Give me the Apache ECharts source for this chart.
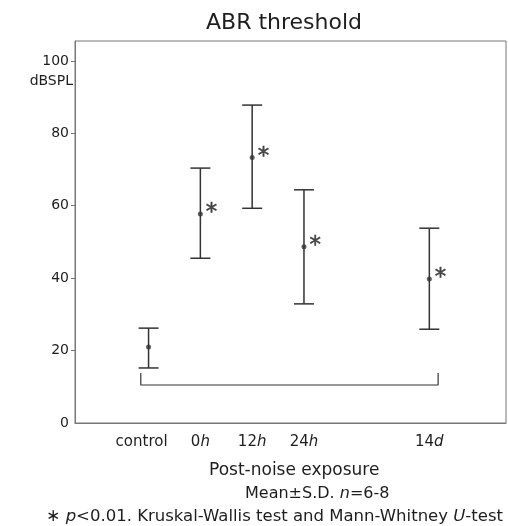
<!DOCTYPE html>
<html>
<head>
<meta charset="utf-8">
<script src="https://cdn.jsdelivr.net/npm/echarts@6/dist/echarts.min.js"></script>
<style>
  html, body { margin: 0; padding: 0; background: #fff; }
  #abr_chart { width: 508px; height: 526px; }
</style>
</head>
<body>
<div id="abr_chart"></div>
<script>
// ABR threshold, mean ± S.D.
var groups = ['control', '0h', '12h', '24h', '14d']
var groupX = [0, 1, 2, 3, 5.42] // 14d sits further to the right on the axis
var means = [21.0, 57.7, 73.3, 48.7, 39.8]
var upper = [26.2, 70.4, 87.8, 64.4, 53.8]
var lower = [15.2, 45.5, 59.3, 32.9, 25.9]
var signif = [false, true, true, true, true]
var yTicks = [0, 20, 40, 60, 80, 100]
var bracketLevel = 10.5
var bracketEnd = 13.8

var lineColor = '#333'
var textColor = '#1e1e1e'
var font = '"DejaVu Sans", Arial, sans-serif'

var abr_chart = echarts.init(document.getElementById('abr_chart'))

var errData = groupX.map(function (x, i) {
  return [x, upper[i], lower[i]]
})
var meanData = groupX.map(function (x, i) {
  return {
    value: [x, means[i]],
    label: { show: signif[i] },
  }
})
var bracketData = [
  [groupX[0] - 0.15, bracketEnd],
  [groupX[0] - 0.15, bracketLevel],
  [groupX[groupX.length - 1] + 0.17, bracketLevel],
  [groupX[groupX.length - 1] + 0.17, bracketEnd],
]

abr_chart_option = {
  animation: false,
  title: {
    text: 'ABR threshold',
    left: 279,
    textAlign: 'center',
    top: 7,
    textStyle: {
      fontFamily: font,
      fontSize: 22,
      fontWeight: 'normal',
      color: textColor,
    },
  },
  grid: {
    left: 75,
    right: 2,
    top: 41,
    bottom: 103,
    show: true,
    borderColor: '#777',
    borderWidth: 1,
  },
  xAxis: {
    type: 'value',
    min: -1.42,
    max: 6.9,
    splitLine: { show: false },
    axisLine: { lineStyle: { color: '#777' } },
    axisTick: { show: false },
    axisLabel: {
      customValues: groupX,
      margin: 12,
      color: textColor,
      fontFamily: font,
      fontSize: 15,
      formatter: function (v) {
        var g = groups[groupX.indexOf(v)]
        if (!g) return ''
        if (g === 'control') return '{c|' + g + '}'
        return '{n|' + g.slice(0, -1) + '}{i|' + g.slice(-1) + '}'
      },
      rich: {
        c: { fontFamily: font, fontSize: 15, color: textColor, padding: [0, 14, 0, 0] },
        n: { fontFamily: font, fontSize: 15, color: textColor },
        i: { fontFamily: font, fontSize: 15, color: textColor, fontStyle: 'italic' },
      },
    },
  },
  yAxis: {
    type: 'value',
    min: 0,
    max: 105.5,
    splitLine: { show: false },
    axisLine: { onZero: false, lineStyle: { color: '#777' } },
    axisTick: {
      customValues: yTicks.slice(1),
      length: 4,
      lineStyle: { color: '#777' },
    },
    axisLabel: {
      customValues: yTicks,
      margin: 6,
      color: textColor,
      fontFamily: font,
      fontSize: 14,
    },
  },
  graphic: [
    {
      type: 'text',
      right: 508 - 73,
      top: 74,
      style: { text: 'dBSPL', font: '14px ' + font, fill: textColor },
    },
    {
      type: 'text',
      left: 209,
      top: 462,
      style: { text: 'Post-noise exposure', font: '17px ' + font, fill: textColor },
    },
    {
      type: 'text',
      left: 245,
      top: 486,
      style: {
        text: '{a|Mean\u00b1S.D. }{i|n}{a|=6-8}',
        rich: {
          a: { fontFamily: font, fontSize: 16, fill: textColor },
          i: { fontFamily: font, fontSize: 16, fontStyle: 'italic', fill: textColor },
        },
      },
    },
    {
      type: 'text',
      left: 46,
      top: 508,
      style: {
        text: '{s|\u2217 }{i|p}{a|<0.01. Kruskal-Wallis test and Mann-Whitney }{i|U}{a|-test}',
        rich: {
          s: { fontFamily: font, fontSize: 17, fill: textColor },
          a: { fontFamily: font, fontSize: 16.5, fill: textColor },
          i: { fontFamily: font, fontSize: 16.5, fontStyle: 'italic', fill: textColor },
        },
      },
    },
  ],
  series: [
    {
      name: 'S.D.',
      type: 'custom',
      data: errData,
      renderItem: function (params, api) {
        var x = api.value(0)
        var hi = api.coord([x, api.value(1)])
        var lo = api.coord([x, api.value(2)])
        var hw = 10
        var st = { stroke: lineColor, lineWidth: 1.5 }
        return {
          type: 'group',
          children: [
            { type: 'line', shape: { x1: hi[0], y1: hi[1], x2: lo[0], y2: lo[1] }, style: st },
            { type: 'line', shape: { x1: hi[0] - hw, y1: hi[1], x2: hi[0] + hw, y2: hi[1] }, style: st },
            { type: 'line', shape: { x1: lo[0] - hw, y1: lo[1], x2: lo[0] + hw, y2: lo[1] }, style: st },
          ],
        }
      },
    },
    {
      name: 'Mean',
      type: 'scatter',
      symbolSize: 5,
      itemStyle: { color: '#333' },
      label: {
        position: 'right',
        distance: 3,
        offset: [0, -1],
        formatter: '*',
        fontFamily: font,
        fontSize: 23,
        color: textColor,
        textBorderColor: textColor,
        textBorderWidth: 0.5,
      },
      data: meanData,
    },
    {
      name: 'bracket',
      type: 'line',
      symbol: 'none',
      lineStyle: { color: lineColor, width: 1.2 },
      data: bracketData,
    },
  ],
}

abr_chart.setOption(abr_chart_option)
</script>
</body>
</html>
